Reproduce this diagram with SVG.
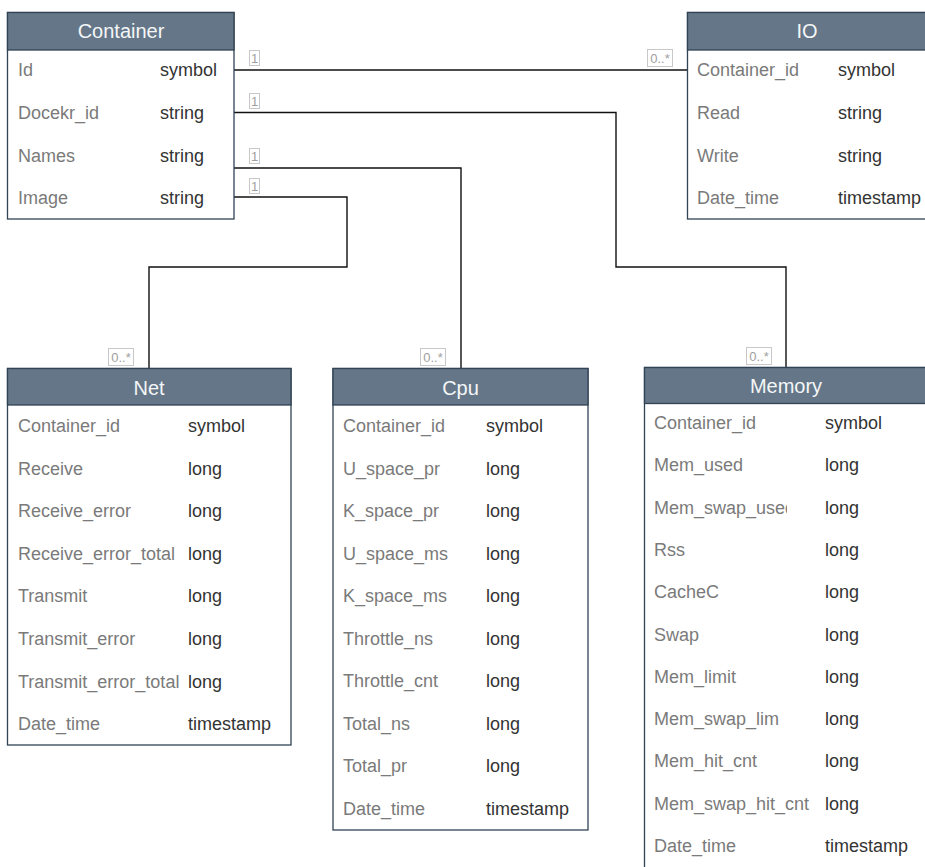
<svg xmlns="http://www.w3.org/2000/svg" width="925" height="867" viewBox="0 0 925 867">
  <style>
    .box { fill: #ffffff; stroke: #314354; stroke-width: 1.3; }
    .head { fill: #647687; stroke: #314354; stroke-width: 1.3; }
    .title { font-family: "Liberation Sans", Arial, sans-serif; font-size: 20px; fill: #f4f6f8; text-anchor: middle; }
    .fname { font-family: "Liberation Sans", Arial, sans-serif; font-size: 18px; fill: #7a7a7a; }
    .ftype { font-family: "Liberation Sans", Arial, sans-serif; font-size: 18px; fill: #333333; }
    .edge { fill: none; stroke: #111111; stroke-width: 1.4; }
    .mult { fill: #ffffff; stroke: #c8c8c8; stroke-width: 1; }
    .multt { font-family: "Liberation Sans", Arial, sans-serif; font-size: 13px; fill: #a0a0a0; text-anchor: middle; }
  </style>
  <defs>
    <clipPath id="memNameClip">
      <rect x="644" y="367" width="143" height="500"/>
    </clipPath>
  </defs>
  <rect width="925" height="867" fill="#ffffff"/>

  <!-- relationships -->
  <g id="connectors">
    <path class="edge" d="M234,70 H687"/>
    <path class="edge" d="M234,112.5 H616 V267 H786 V367"/>
    <path class="edge" d="M234,168 H461 V368"/>
    <path class="edge" d="M234,197 H347 V267 H149 V368"/>

    <rect class="mult" x="249.5" y="50.5" width="10" height="15"/>
    <text class="multt" x="254.5" y="63">1</text>
    <rect class="mult" x="249.5" y="93.5" width="10" height="15"/>
    <text class="multt" x="254.5" y="106">1</text>
    <rect class="mult" x="249.5" y="148.5" width="10" height="15"/>
    <text class="multt" x="254.5" y="161">1</text>
    <rect class="mult" x="249.5" y="178.5" width="10" height="15"/>
    <text class="multt" x="254.5" y="191">1</text>

    <rect class="mult" x="647.5" y="49.5" width="25" height="17"/>
    <text class="multt" x="660" y="63">0..*</text>
    <rect class="mult" x="108.5" y="348.5" width="25" height="17"/>
    <text class="multt" x="121" y="362">0..*</text>
    <rect class="mult" x="420.5" y="348.5" width="25" height="17"/>
    <text class="multt" x="433" y="362">0..*</text>
    <rect class="mult" x="746.5" y="347.5" width="25" height="17"/>
    <text class="multt" x="759" y="361">0..*</text>
  </g>

  <!-- Container table -->
  <g id="container">
    <rect class="box" x="7.5" y="12.5" width="226.5" height="206.5"/>
    <rect class="head" x="7.5" y="12.5" width="226.5" height="37.5"/>
    <text class="title" x="121" y="38">Container</text>
    <text class="fname" x="18" y="76">Id</text><text class="ftype" x="160" y="76">symbol</text>
    <text class="fname" x="18" y="119">Docekr_id</text><text class="ftype" x="160" y="119">string</text>
    <text class="fname" x="18" y="161.5">Names</text><text class="ftype" x="160" y="161.5">string</text>
    <text class="fname" x="18" y="204">Image</text><text class="ftype" x="160" y="204">string</text>
  </g>

  <!-- IO table -->
  <g id="io">
    <rect class="box" x="687.5" y="12.5" width="240" height="206.5"/>
    <rect class="head" x="687.5" y="12.5" width="240" height="37.5"/>
    <text class="title" x="807" y="38">IO</text>
    <text class="fname" x="697" y="76">Container_id</text><text class="ftype" x="838" y="76">symbol</text>
    <text class="fname" x="697" y="119">Read</text><text class="ftype" x="838" y="119">string</text>
    <text class="fname" x="697" y="161.5">Write</text><text class="ftype" x="838" y="161.5">string</text>
    <text class="fname" x="697" y="204">Date_time</text><text class="ftype" x="838" y="204">timestamp</text>
  </g>

  <!-- Net table -->
  <g id="net">
    <rect class="box" x="7.5" y="368.5" width="283.5" height="376.5"/>
    <rect class="head" x="7.5" y="368.5" width="283.5" height="36.5"/>
    <text class="title" x="149" y="395">Net</text>
    <text class="fname" x="18" y="432">Container_id</text><text class="ftype" x="188" y="432">symbol</text>
    <text class="fname" x="18" y="474.6">Receive</text><text class="ftype" x="188" y="474.6">long</text>
    <text class="fname" x="18" y="517.2">Receive_error</text><text class="ftype" x="188" y="517.2">long</text>
    <text class="fname" x="18" y="559.8">Receive_error_total</text><text class="ftype" x="188" y="559.8">long</text>
    <text class="fname" x="18" y="602.4">Transmit</text><text class="ftype" x="188" y="602.4">long</text>
    <text class="fname" x="18" y="645">Transmit_error</text><text class="ftype" x="188" y="645">long</text>
    <text class="fname" x="18" y="687.6">Transmit_error_total</text><text class="ftype" x="188" y="687.6">long</text>
    <text class="fname" x="18" y="730.2">Date_time</text><text class="ftype" x="188" y="730.2">timestamp</text>
  </g>

  <!-- Cpu table -->
  <g id="cpu">
    <rect class="box" x="333" y="368.5" width="255" height="461.5"/>
    <rect class="head" x="333" y="368.5" width="255" height="36.5"/>
    <text class="title" x="460.5" y="395">Cpu</text>
    <text class="fname" x="343" y="432">Container_id</text><text class="ftype" x="486" y="432">symbol</text>
    <text class="fname" x="343" y="474.5">U_space_pr</text><text class="ftype" x="486" y="474.5">long</text>
    <text class="fname" x="343" y="517">K_space_pr</text><text class="ftype" x="486" y="517">long</text>
    <text class="fname" x="343" y="559.5">U_space_ms</text><text class="ftype" x="486" y="559.5">long</text>
    <text class="fname" x="343" y="602">K_space_ms</text><text class="ftype" x="486" y="602">long</text>
    <text class="fname" x="343" y="644.5">Throttle_ns</text><text class="ftype" x="486" y="644.5">long</text>
    <text class="fname" x="343" y="687">Throttle_cnt</text><text class="ftype" x="486" y="687">long</text>
    <text class="fname" x="343" y="729.5">Total_ns</text><text class="ftype" x="486" y="729.5">long</text>
    <text class="fname" x="343" y="772">Total_pr</text><text class="ftype" x="486" y="772">long</text>
    <text class="fname" x="343" y="814.5">Date_time</text><text class="ftype" x="486" y="814.5">timestamp</text>
  </g>

  <!-- Memory table -->
  <g id="memory">
    <rect class="box" x="644.5" y="367.5" width="284" height="505"/>
    <rect class="head" x="644.5" y="367.5" width="284" height="36"/>
    <text class="title" x="786" y="393">Memory</text>
    <text class="fname" x="654" y="429">Container_id</text><text class="ftype" x="825" y="429">symbol</text>
    <text class="fname" x="654" y="471.3">Mem_used</text><text class="ftype" x="825" y="471.3">long</text>
    <text class="fname" x="654" y="513.6" clip-path="url(#memNameClip)">Mem_swap_used</text><text class="ftype" x="825" y="513.6">long</text>
    <text class="fname" x="654" y="555.9">Rss</text><text class="ftype" x="825" y="555.9">long</text>
    <text class="fname" x="654" y="598.2">CacheC</text><text class="ftype" x="825" y="598.2">long</text>
    <text class="fname" x="654" y="640.5">Swap</text><text class="ftype" x="825" y="640.5">long</text>
    <text class="fname" x="654" y="682.8">Mem_limit</text><text class="ftype" x="825" y="682.8">long</text>
    <text class="fname" x="654" y="725.1">Mem_swap_lim</text><text class="ftype" x="825" y="725.1">long</text>
    <text class="fname" x="654" y="767.4">Mem_hit_cnt</text><text class="ftype" x="825" y="767.4">long</text>
    <text class="fname" x="654" y="809.7">Mem_swap_hit_cnt</text><text class="ftype" x="825" y="809.7">long</text>
    <text class="fname" x="654" y="852">Date_time</text><text class="ftype" x="825" y="852">timestamp</text>
  </g>
</svg>
